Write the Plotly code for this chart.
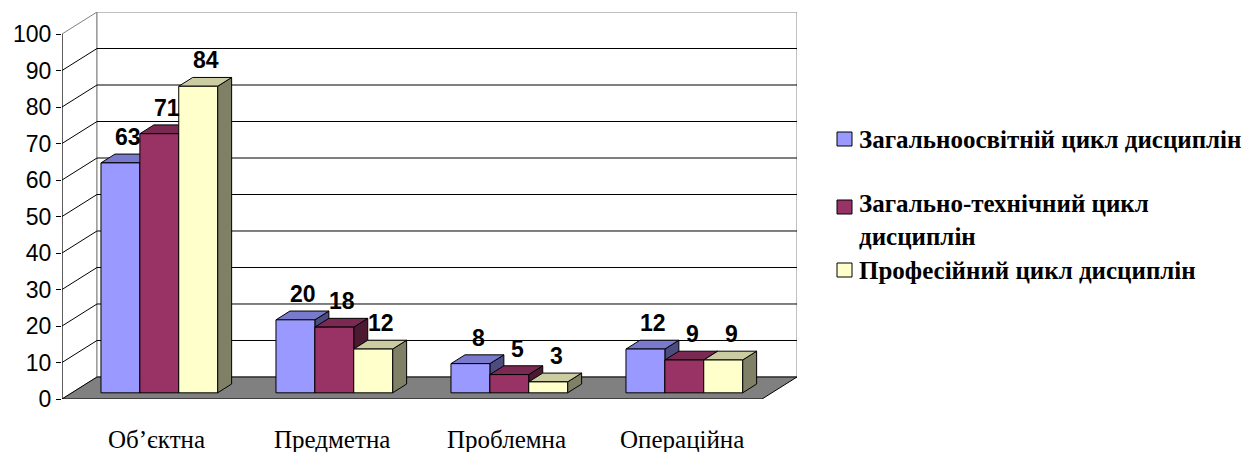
import plotly.graph_objects as go

# ---- data -------------------------------------------------------------
categories = ["Об’єктна", "Предметна", "Проблемна", "Операційна"]
series_names = [
    "Загальноосвітній цикл дисциплін",
    "Загально-технічний цикл<br>дисциплін",
    "Професійний цикл дисциплін",
]
values_general = [63, 20, 8, 12]
values_technical = [71, 18, 5, 9]
values_professional = [84, 12, 3, 9]
y_ticks = [0, 10, 20, 30, 40, 50, 60, 70, 80, 90, 100]

# ---- style ------------------------------------------------------------
front_colors = ["#9999FF", "#993366", "#FFFFCC"]
top_colors = ["#7A7ACC", "#7A2952", "#CCCCA3"]
side_colors = ["#4C4C80", "#4C1933", "#808066"]

SANS = "Liberation Sans"
SERIF = "Liberation Serif"

W, H = 1243, 452
M_L, M_R, M_T, M_B = 62, 446, 12, 53

Y_MAX = 100
DX = 0.2          # oblique depth offset in category units
DY = 6.03         # oblique depth offset in value units
F0, F1 = 0.28, 0.68   # bar depth span as fraction of floor depth
BAR_W = 2 / 9     # column width (gap width 50 %)

X0, X1 = -0.5, len(categories) - 0.5
x_range = [X0, X1 + DX]
y_range = [0, Y_MAX + DY]

plot_w = W - M_L - M_R
plot_h = H - M_T - M_B


def px_x(px):
    return (px - M_L) / plot_w


def px_y(py):
    return 1 - (py - M_T) / plot_h


def poly(points):
    return "M " + " L ".join(f"{x},{y}" for x, y in points) + " Z"


series_values = [values_general, values_technical, values_professional]
shapes = []
annotations = []

# left wall
shapes.append(dict(type="path", layer="below", xref="x", yref="y",
                   path=poly([(X0, 0), (X0 + DX, DY), (X0 + DX, Y_MAX + DY), (X0, Y_MAX)]),
                   fillcolor="white", line=dict(color="#808080", width=1)))
# back wall
shapes.append(dict(type="rect", layer="below", xref="x", yref="y",
                   x0=X0 + DX, x1=X1 + DX, y0=DY, y1=Y_MAX + DY,
                   fillcolor="white", line=dict(color="#808080", width=1)))
# grid lines on walls
for t in y_ticks[1:-1]:
    shapes.append(dict(type="line", layer="below", xref="x", yref="y",
                       x0=X0 + DX, x1=X1 + DX, y0=t + DY, y1=t + DY,
                       line=dict(color="black", width=1)))
for t in y_ticks[1:-1]:
    shapes.append(dict(type="line", layer="below", xref="x", yref="y",
                       x0=X0, x1=X0 + DX, y0=t, y1=t + DY,
                       line=dict(color="black", width=1)))
# floor
shapes.append(dict(type="path", layer="below", xref="x", yref="y",
                   path=poly([(X0, 0), (X1, 0), (X1 + DX, DY), (X0 + DX, DY)]),
                   fillcolor="#808080", line=dict(color="black", width=1)))
# front value axis
shapes.append(dict(type="line", layer="below", xref="x", yref="y",
                   x0=X0, x1=X0, y0=0, y1=Y_MAX,
                   line=dict(color="black", width=1)))

fig = go.Figure()

# front faces via bar traces; top and side faces as oblique parallelograms
base = F0 * DY
for k, (vals, name) in enumerate(zip(series_values, series_names)):
    xs = [i + F0 * DX + (k - 1) * BAR_W for i in range(len(categories))]
    fig.add_trace(go.Bar(
        x=xs, y=vals, base=[base] * len(vals), width=BAR_W,
        name=name.replace("<br>", " "),
        marker=dict(color=front_colors[k], line=dict(color="black", width=1)),
        showlegend=False, hoverinfo="skip",
    ))

for i in range(len(categories)):
    for k, vals in enumerate(series_values):
        v = vals[i]
        cx = i + F0 * DX + (k - 1) * BAR_W
        xa, xb = cx - BAR_W / 2, cx + BAR_W / 2
        d = (F1 - F0)
        top = [(xa, v + base), (xb, v + base),
               (xb + d * DX, v + base + d * DY), (xa + d * DX, v + base + d * DY)]
        side = [(xb, base), (xb + d * DX, base + d * DY),
                (xb + d * DX, v + base + d * DY), (xb, v + base)]
        shapes.append(dict(type="path", layer="between", xref="x", yref="y",
                           path=poly(side), fillcolor=side_colors[k],
                           line=dict(color="black", width=1)))
        shapes.append(dict(type="path", layer="between", xref="x", yref="y",
                           path=poly(top), fillcolor=top_colors[k],
                           line=dict(color="black", width=1)))
        # value label
        annotations.append(dict(
            x=cx + 0.045, y=v + base, xref="x", yref="y",
            text=f"<b>{v}</b>", showarrow=False, yanchor="middle", yshift=26,
            font=dict(family=SANS, size=23, color="black")))

# category labels under the floor
for i, c in enumerate(categories):
    annotations.append(dict(
        x=i + 0.04, y=px_y(440), xref="x", yref="paper", text=c,
        showarrow=False, yanchor="middle", xanchor="center",
        font=dict(family=SERIF, size=25, color="black")))

# legend
legend_rows = [139, 207, 270]
legend_text_y = [139, 220, 270]
for k, name in enumerate(series_names):
    cy = legend_rows[k]
    shapes.append(dict(type="rect", xref="paper", yref="paper", layer="above",
                       x0=px_x(837), x1=px_x(852), y0=px_y(cy + 7), y1=px_y(cy - 7),
                       fillcolor=front_colors[k], line=dict(color="black", width=1)))
    annotations.append(dict(
        x=px_x(857), y=px_y(legend_text_y[k]), xref="paper", yref="paper",
        text=f"<b>{name}</b>", showarrow=False, xanchor="left", yanchor="middle",
        align="left",
        font=dict(family=SERIF, size=25, color="black")))

fig.update_layout(
    width=W, height=H,
    margin=dict(l=M_L, r=M_R, t=M_T, b=M_B, pad=0),
    paper_bgcolor="white", plot_bgcolor="white",
    barmode="overlay", showlegend=False,
    shapes=shapes, annotations=annotations,
    xaxis=dict(range=x_range, showgrid=False, zeroline=False, showticklabels=False,
               ticks="", showline=False, fixedrange=True),
    yaxis=dict(range=y_range, tickvals=y_ticks, ticks="outside", ticklen=5,
               tickcolor="black", showgrid=False, zeroline=False, showline=False,
               tickfont=dict(family=SANS, size=23, color="black"),
               fixedrange=True),
)

fig.write_html("out.html")
